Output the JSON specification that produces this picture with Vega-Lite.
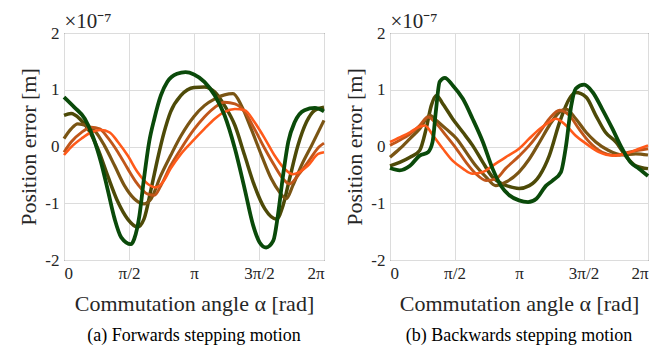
{
"$schema":"https://vega.github.io/schema/vega-lite/v6.json",
"background":"white",
"padding":{"left":17,"top":9,"right":0,"bottom":0},
"config":{
 "font":"Liberation Serif",
 "view":{"stroke":"#262626","strokeWidth":1},
 "axis":{"gridColor":"#dcdcdc","gridWidth":1,"domain":false,"labelFontSize":17,"labelColor":"#262626","titleFontSize":22,"titleFontWeight":"normal","titleColor":"#262626"},
 "title":{"fontSize":18,"fontWeight":"normal","color":"#000000"}
},
"datasets":{
"fwd":[
{"run":"s2","angle":0,"err":0.55},{"run":"s2","angle":0.11,"err":0.58},{"run":"s2","angle":0.24,"err":0.49},{"run":"s2","angle":0.37,"err":0.31},{"run":"s2","angle":0.52,"err":-0.04},{"run":"s2","angle":0.67,"err":-0.51},{"run":"s2","angle":0.83,"err":-0.98},{"run":"s2","angle":0.98,"err":-1.28},{"run":"s2","angle":1.13,"err":-1.42},{"run":"s2","angle":1.23,"err":-1.28},{"run":"s2","angle":1.34,"err":-0.75},{"run":"s2","angle":1.44,"err":-0.22},{"run":"s2","angle":1.54,"err":0.25},{"run":"s2","angle":1.64,"err":0.61},{"run":"s2","angle":1.8,"err":0.9},{"run":"s2","angle":2.0,"err":1.04},{"run":"s2","angle":2.16,"err":1.05},{"run":"s2","angle":2.32,"err":0.96},{"run":"s2","angle":2.47,"err":0.72},{"run":"s2","angle":2.63,"err":0.37},{"run":"s2","angle":2.78,"err":-0.16},{"run":"s2","angle":2.93,"err":-0.69},{"run":"s2","angle":3.09,"err":-1.1},{"run":"s2","angle":3.27,"err":-1.28},{"run":"s2","angle":3.37,"err":-1.04},{"run":"s2","angle":3.47,"err":-0.57},{"run":"s2","angle":3.6,"err":0.02},{"run":"s2","angle":3.73,"err":0.43},{"run":"s2","angle":3.86,"err":0.64},{"run":"s2","angle":4.0,"err":0.69},
{"run":"s3","angle":0,"err":0.14},{"run":"s3","angle":0.11,"err":0.31},{"run":"s3","angle":0.21,"err":0.4},{"run":"s3","angle":0.34,"err":0.37},{"run":"s3","angle":0.47,"err":0.28},{"run":"s3","angle":0.62,"err":0.02},{"run":"s3","angle":0.78,"err":-0.34},{"run":"s3","angle":0.93,"err":-0.69},{"run":"s3","angle":1.08,"err":-0.92},{"run":"s3","angle":1.23,"err":-1.01},{"run":"s3","angle":1.34,"err":-0.92},{"run":"s3","angle":1.49,"err":-0.51},{"run":"s3","angle":1.64,"err":-0.16},{"run":"s3","angle":1.8,"err":0.19},{"run":"s3","angle":2.0,"err":0.53},{"run":"s3","angle":2.16,"err":0.72},{"run":"s3","angle":2.32,"err":0.84},{"run":"s3","angle":2.47,"err":0.91},{"run":"s3","angle":2.6,"err":0.93},{"run":"s3","angle":2.73,"err":0.72},{"run":"s3","angle":2.88,"err":0.31},{"run":"s3","angle":3.04,"err":-0.16},{"run":"s3","angle":3.19,"err":-0.57},{"run":"s3","angle":3.32,"err":-0.81},{"run":"s3","angle":3.42,"err":-0.92},{"run":"s3","angle":3.52,"err":-0.69},{"run":"s3","angle":3.65,"err":-0.34},{"run":"s3","angle":3.81,"err":0.02},{"run":"s3","angle":4.0,"err":0.46},
{"run":"s4","angle":0,"err":-0.1},{"run":"s4","angle":0.11,"err":0.08},{"run":"s4","angle":0.27,"err":0.25},{"run":"s4","angle":0.42,"err":0.34},{"run":"s4","angle":0.55,"err":0.31},{"run":"s4","angle":0.67,"err":0.16},{"run":"s4","angle":0.83,"err":-0.1},{"run":"s4","angle":0.98,"err":-0.39},{"run":"s4","angle":1.13,"err":-0.66},{"run":"s4","angle":1.29,"err":-0.84},{"run":"s4","angle":1.39,"err":-0.86},{"run":"s4","angle":1.49,"err":-0.69},{"run":"s4","angle":1.64,"err":-0.34},{"run":"s4","angle":1.8,"err":-0.04},{"run":"s4","angle":2.0,"err":0.3},{"run":"s4","angle":2.16,"err":0.52},{"run":"s4","angle":2.32,"err":0.69},{"run":"s4","angle":2.47,"err":0.78},{"run":"s4","angle":2.63,"err":0.75},{"run":"s4","angle":2.78,"err":0.61},{"run":"s4","angle":2.93,"err":0.31},{"run":"s4","angle":3.09,"err":-0.04},{"run":"s4","angle":3.24,"err":-0.34},{"run":"s4","angle":3.37,"err":-0.57},{"run":"s4","angle":3.47,"err":-0.66},{"run":"s4","angle":3.6,"err":-0.51},{"run":"s4","angle":3.75,"err":-0.28},{"run":"s4","angle":3.93,"err":0.0},{"run":"s4","angle":4.0,"err":0.06},
{"run":"s5","angle":0,"err":-0.15},{"run":"s5","angle":0.11,"err":-0.01},{"run":"s5","angle":0.27,"err":0.14},{"run":"s5","angle":0.42,"err":0.25},{"run":"s5","angle":0.57,"err":0.29},{"run":"s5","angle":0.7,"err":0.25},{"run":"s5","angle":0.83,"err":0.08},{"run":"s5","angle":0.98,"err":-0.16},{"run":"s5","angle":1.13,"err":-0.45},{"run":"s5","angle":1.29,"err":-0.66},{"run":"s5","angle":1.41,"err":-0.72},{"run":"s5","angle":1.52,"err":-0.63},{"run":"s5","angle":1.64,"err":-0.39},{"run":"s5","angle":1.8,"err":-0.13},{"run":"s5","angle":2.0,"err":0.12},{"run":"s5","angle":2.16,"err":0.31},{"run":"s5","angle":2.32,"err":0.49},{"run":"s5","angle":2.47,"err":0.61},{"run":"s5","angle":2.63,"err":0.66},{"run":"s5","angle":2.78,"err":0.64},{"run":"s5","angle":2.93,"err":0.43},{"run":"s5","angle":3.09,"err":0.14},{"run":"s5","angle":3.24,"err":-0.16},{"run":"s5","angle":3.39,"err":-0.39},{"run":"s5","angle":3.52,"err":-0.49},{"run":"s5","angle":3.62,"err":-0.45},{"run":"s5","angle":3.75,"err":-0.34},{"run":"s5","angle":3.91,"err":-0.13},{"run":"s5","angle":4.0,"err":-0.1},
{"run":"s1","angle":0,"err":0.87},{"run":"s1","angle":0.16,"err":0.69},{"run":"s1","angle":0.32,"err":0.49},{"run":"s1","angle":0.44,"err":0.19},{"run":"s1","angle":0.57,"err":-0.28},{"run":"s1","angle":0.67,"err":-0.75},{"run":"s1","angle":0.78,"err":-1.28},{"run":"s1","angle":0.88,"err":-1.6},{"run":"s1","angle":1.03,"err":-1.72},{"run":"s1","angle":1.08,"err":-1.63},{"run":"s1","angle":1.16,"err":-1.22},{"run":"s1","angle":1.23,"err":-0.57},{"run":"s1","angle":1.31,"err":0.08},{"run":"s1","angle":1.39,"err":0.49},{"run":"s1","angle":1.49,"err":0.9},{"run":"s1","angle":1.59,"err":1.14},{"run":"s1","angle":1.74,"err":1.28},{"run":"s1","angle":1.87,"err":1.31},{"run":"s1","angle":2.0,"err":1.27},{"run":"s1","angle":2.16,"err":1.14},{"run":"s1","angle":2.32,"err":0.9},{"run":"s1","angle":2.47,"err":0.55},{"run":"s1","angle":2.63,"err":-0.04},{"run":"s1","angle":2.78,"err":-0.75},{"run":"s1","angle":2.91,"err":-1.39},{"run":"s1","angle":3.01,"err":-1.69},{"run":"s1","angle":3.11,"err":-1.78},{"run":"s1","angle":3.22,"err":-1.66},{"run":"s1","angle":3.29,"err":-1.22},{"run":"s1","angle":3.37,"err":-0.51},{"run":"s1","angle":3.45,"err":0.08},{"run":"s1","angle":3.55,"err":0.43},{"run":"s1","angle":3.7,"err":0.64},{"run":"s1","angle":3.86,"err":0.68},{"run":"s1","angle":4.0,"err":0.62}
],
"bwd":[
{"run":"s2","angle":0,"err":-0.34},{"run":"s2","angle":0.15,"err":-0.28},{"run":"s2","angle":0.31,"err":-0.19},{"run":"s2","angle":0.46,"err":-0.07},{"run":"s2","angle":0.56,"err":0.31},{"run":"s2","angle":0.64,"err":0.72},{"run":"s2","angle":0.72,"err":0.9},{"run":"s2","angle":0.82,"err":0.75},{"run":"s2","angle":0.97,"err":0.49},{"run":"s2","angle":1.13,"err":0.25},{"run":"s2","angle":1.28,"err":0.02},{"run":"s2","angle":1.44,"err":-0.28},{"run":"s2","angle":1.59,"err":-0.54},{"run":"s2","angle":1.74,"err":-0.66},{"run":"s2","angle":1.9,"err":-0.72},{"run":"s2","angle":2.0,"err":-0.74},{"run":"s2","angle":2.16,"err":-0.69},{"run":"s2","angle":2.32,"err":-0.51},{"run":"s2","angle":2.47,"err":-0.16},{"run":"s2","angle":2.63,"err":0.43},{"run":"s2","angle":2.78,"err":0.84},{"run":"s2","angle":2.88,"err":0.95},{"run":"s2","angle":3.04,"err":0.87},{"run":"s2","angle":3.19,"err":0.55},{"run":"s2","angle":3.34,"err":0.25},{"run":"s2","angle":3.5,"err":0.08},{"run":"s2","angle":3.65,"err":-0.16},{"run":"s2","angle":3.81,"err":-0.34},{"run":"s2","angle":4.0,"err":-0.39},
{"run":"s3","angle":0,"err":-0.19},{"run":"s3","angle":0.15,"err":-0.04},{"run":"s3","angle":0.31,"err":0.14},{"run":"s3","angle":0.46,"err":0.31},{"run":"s3","angle":0.62,"err":0.55},{"run":"s3","angle":0.72,"err":0.46},{"run":"s3","angle":0.87,"err":0.31},{"run":"s3","angle":1.03,"err":0.14},{"run":"s3","angle":1.18,"err":-0.1},{"run":"s3","angle":1.33,"err":-0.34},{"run":"s3","angle":1.49,"err":-0.54},{"run":"s3","angle":1.64,"err":-0.69},{"run":"s3","angle":1.79,"err":-0.63},{"run":"s3","angle":2.0,"err":-0.45},{"run":"s3","angle":2.16,"err":-0.22},{"run":"s3","angle":2.32,"err":0.08},{"run":"s3","angle":2.47,"err":0.37},{"run":"s3","angle":2.63,"err":0.61},{"run":"s3","angle":2.73,"err":0.66},{"run":"s3","angle":2.88,"err":0.49},{"run":"s3","angle":3.04,"err":0.25},{"run":"s3","angle":3.19,"err":0.08},{"run":"s3","angle":3.39,"err":-0.07},{"run":"s3","angle":3.6,"err":-0.15},{"run":"s3","angle":3.81,"err":-0.13},{"run":"s3","angle":4.0,"err":-0.15},
{"run":"s4","angle":0,"err":0.02},{"run":"s4","angle":0.15,"err":0.11},{"run":"s4","angle":0.31,"err":0.22},{"run":"s4","angle":0.46,"err":0.37},{"run":"s4","angle":0.59,"err":0.52},{"run":"s4","angle":0.72,"err":0.4},{"run":"s4","angle":0.87,"err":0.19},{"run":"s4","angle":1.03,"err":-0.04},{"run":"s4","angle":1.18,"err":-0.28},{"run":"s4","angle":1.33,"err":-0.48},{"run":"s4","angle":1.49,"err":-0.6},{"run":"s4","angle":1.64,"err":-0.57},{"run":"s4","angle":1.79,"err":-0.39},{"run":"s4","angle":2.0,"err":-0.17},{"run":"s4","angle":2.16,"err":0.02},{"run":"s4","angle":2.32,"err":0.25},{"run":"s4","angle":2.47,"err":0.49},{"run":"s4","angle":2.63,"err":0.64},{"run":"s4","angle":2.78,"err":0.55},{"run":"s4","angle":2.93,"err":0.31},{"run":"s4","angle":3.09,"err":0.08},{"run":"s4","angle":3.29,"err":-0.1},{"run":"s4","angle":3.5,"err":-0.16},{"run":"s4","angle":3.7,"err":-0.1},{"run":"s4","angle":4.0,"err":-0.04},
{"run":"s5","angle":0,"err":0.08},{"run":"s5","angle":0.15,"err":0.16},{"run":"s5","angle":0.31,"err":0.25},{"run":"s5","angle":0.44,"err":0.34},{"run":"s5","angle":0.54,"err":0.37},{"run":"s5","angle":0.67,"err":0.19},{"run":"s5","angle":0.82,"err":-0.04},{"run":"s5","angle":0.97,"err":-0.25},{"run":"s5","angle":1.13,"err":-0.39},{"run":"s5","angle":1.28,"err":-0.48},{"run":"s5","angle":1.44,"err":-0.45},{"run":"s5","angle":1.59,"err":-0.34},{"run":"s5","angle":1.79,"err":-0.19},{"run":"s5","angle":2.0,"err":-0.04},{"run":"s5","angle":2.16,"err":0.14},{"run":"s5","angle":2.32,"err":0.31},{"run":"s5","angle":2.47,"err":0.43},{"run":"s5","angle":2.57,"err":0.49},{"run":"s5","angle":2.73,"err":0.37},{"run":"s5","angle":2.88,"err":0.19},{"run":"s5","angle":3.04,"err":0.05},{"run":"s5","angle":3.24,"err":-0.1},{"run":"s5","angle":3.45,"err":-0.16},{"run":"s5","angle":3.65,"err":-0.13},{"run":"s5","angle":3.86,"err":-0.04},{"run":"s5","angle":4.0,"err":0.02},
{"run":"s1","angle":0,"err":-0.38},{"run":"s1","angle":0.15,"err":-0.42},{"run":"s1","angle":0.31,"err":-0.34},{"run":"s1","angle":0.46,"err":-0.16},{"run":"s1","angle":0.59,"err":-0.1},{"run":"s1","angle":0.66,"err":0.08},{"run":"s1","angle":0.71,"err":0.61},{"run":"s1","angle":0.77,"err":1.14},{"run":"s1","angle":0.85,"err":1.21},{"run":"s1","angle":0.97,"err":1.08},{"run":"s1","angle":1.13,"err":0.84},{"run":"s1","angle":1.28,"err":0.49},{"run":"s1","angle":1.44,"err":0.08},{"run":"s1","angle":1.59,"err":-0.39},{"run":"s1","angle":1.72,"err":-0.69},{"run":"s1","angle":1.85,"err":-0.86},{"run":"s1","angle":2.0,"err":-0.95},{"run":"s1","angle":2.14,"err":-0.98},{"run":"s1","angle":2.27,"err":-0.92},{"run":"s1","angle":2.42,"err":-0.69},{"run":"s1","angle":2.52,"err":-0.6},{"run":"s1","angle":2.65,"err":-0.45},{"run":"s1","angle":2.73,"err":0.02},{"run":"s1","angle":2.81,"err":0.72},{"run":"s1","angle":2.88,"err":1.02},{"run":"s1","angle":3.01,"err":1.09},{"run":"s1","angle":3.14,"err":0.96},{"run":"s1","angle":3.29,"err":0.66},{"run":"s1","angle":3.45,"err":0.31},{"run":"s1","angle":3.6,"err":-0.04},{"run":"s1","angle":3.73,"err":-0.28},{"run":"s1","angle":3.86,"err":-0.39},{"run":"s1","angle":4.0,"err":-0.52}
]
},
"bounds":"flush",
"spacing":66,
"hconcat":[
{
 "width":260,"height":227,
 "data":{"name":"fwd"},
 "title":{"text":"(a) Forwards stepping motion","orient":"bottom","offset":13},
 "resolve":{"axis":{"x":"independent","y":"independent"}},
 "layer":[
  {"transform":[{"filter":"datum.run !== 's1'"}],
   "mark":{"type":"line","interpolate":"monotone"},
   "encoding":{
    "x":{"field":"angle","type":"quantitative","scale":{"domain":[0,4],"nice":false,"zero":false},"axis":{"values":[0,1,2,3,4],"labelExpr":"['0','π/2','π','3π/2','2π'][datum.value]","title":"Commutation angle α [rad]","titlePadding":12,"labelPadding":5,"ticks":false}},
    "y":{"field":"err","type":"quantitative","scale":{"domain":[-2,2],"nice":false},"axis":{"values":[-2,-1,0,1,2],"labelExpr":"datum.value < 0 ? '-' + abs(datum.value) : '' + datum.value","title":"Position error [m]","labelPadding":5,"ticks":false}},
    "color":{"field":"run","type":"nominal","scale":{"domain":["s1","s2","s3","s4","s5"],"range":["#0a4a0a","#4d4a08","#7a5514","#c0561a","#ff5a1a"]},"legend":null},
    "strokeWidth":{"field":"run","type":"ordinal","scale":{"domain":["s1","s2","s3","s4","s5"],"range":[3.8,2.6,2.4,2.2,2]},"legend":null}
   }},
  {"transform":[{"filter":"datum.run === 's1'"}],
   "mark":{"type":"line","interpolate":"monotone"},
   "encoding":{
    "x":{"field":"angle","type":"quantitative","scale":{"domain":[0,4],"nice":false,"zero":false},"axis":{"orient":"top","values":[0,1,2,3,4],"labels":false,"grid":false,"ticks":false,"title":"×10⁻⁷","titleAnchor":"start","titleAlign":"left","titleFontSize":21,"titlePadding":2}},
    "y":{"field":"err","type":"quantitative","scale":{"domain":[-2,2],"nice":false},"axis":{"orient":"right","values":[-2,-1,0,1,2],"labels":false,"grid":false,"ticks":false,"title":null}},
    "color":{"field":"run","type":"nominal","scale":{"domain":["s1","s2","s3","s4","s5"],"range":["#0a4a0a","#4d4a08","#7a5514","#c0561a","#ff5a1a"]},"legend":null},
    "strokeWidth":{"field":"run","type":"ordinal","scale":{"domain":["s1","s2","s3","s4","s5"],"range":[3.8,2.6,2.4,2.2,2]},"legend":null}
   }}
 ]
},
{
 "width":258,"height":227,
 "data":{"name":"bwd"},
 "title":{"text":"(b) Backwards stepping motion","orient":"bottom","offset":13},
 "resolve":{"axis":{"x":"independent","y":"independent"}},
 "layer":[
  {"transform":[{"filter":"datum.run !== 's1'"}],
   "mark":{"type":"line","interpolate":"monotone"},
   "encoding":{
    "x":{"field":"angle","type":"quantitative","scale":{"domain":[0,4],"nice":false,"zero":false},"axis":{"values":[0,1,2,3,4],"labelExpr":"['0','π/2','π','3π/2','2π'][datum.value]","title":"Commutation angle α [rad]","titlePadding":12,"labelPadding":5,"ticks":false}},
    "y":{"field":"err","type":"quantitative","scale":{"domain":[-2,2],"nice":false},"axis":{"values":[-2,-1,0,1,2],"labelExpr":"datum.value < 0 ? '-' + abs(datum.value) : '' + datum.value","title":"Position error [m]","labelPadding":5,"ticks":false}},
    "color":{"field":"run","type":"nominal","scale":{"domain":["s1","s2","s3","s4","s5"],"range":["#0a4a0a","#4d4a08","#7a5514","#c0561a","#ff5a1a"]},"legend":null},
    "strokeWidth":{"field":"run","type":"ordinal","scale":{"domain":["s1","s2","s3","s4","s5"],"range":[3.8,2.6,2.4,2.2,2]},"legend":null}
   }},
  {"transform":[{"filter":"datum.run === 's1'"}],
   "mark":{"type":"line","interpolate":"monotone"},
   "encoding":{
    "x":{"field":"angle","type":"quantitative","scale":{"domain":[0,4],"nice":false,"zero":false},"axis":{"orient":"top","values":[0,1,2,3,4],"labels":false,"grid":false,"ticks":false,"title":"×10⁻⁷","titleAnchor":"start","titleAlign":"left","titleFontSize":21,"titlePadding":2}},
    "y":{"field":"err","type":"quantitative","scale":{"domain":[-2,2],"nice":false},"axis":{"orient":"right","values":[-2,-1,0,1,2],"labels":false,"grid":false,"ticks":false,"title":null}},
    "color":{"field":"run","type":"nominal","scale":{"domain":["s1","s2","s3","s4","s5"],"range":["#0a4a0a","#4d4a08","#7a5514","#c0561a","#ff5a1a"]},"legend":null},
    "strokeWidth":{"field":"run","type":"ordinal","scale":{"domain":["s1","s2","s3","s4","s5"],"range":[3.8,2.6,2.4,2.2,2]},"legend":null}
   }}
 ]
}
]
}
